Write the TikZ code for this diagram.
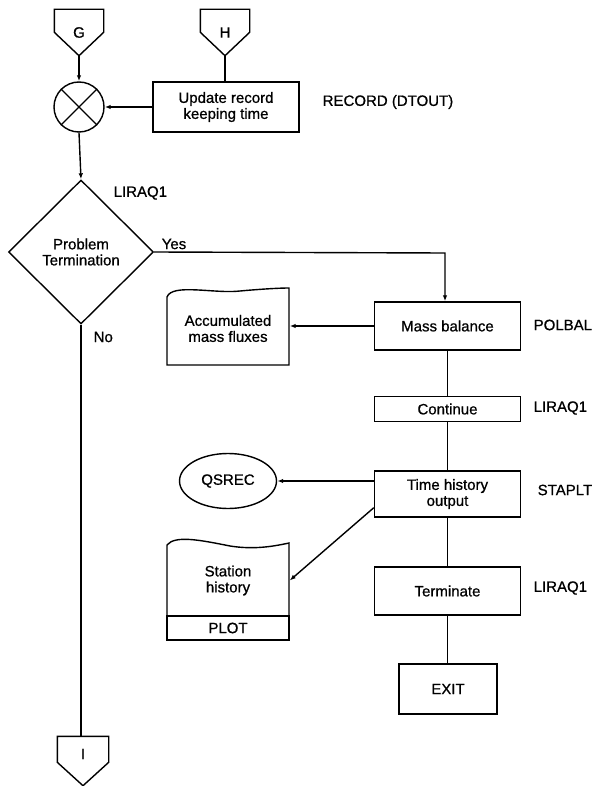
\documentclass[tikz,border=0pt]{standalone}
\usepackage{fontspec}
\setmainfont{Liberation Sans}[FakeBold=0.8]
\usetikzlibrary{shapes.geometric,arrows.meta,calc}

\begin{document}
\begin{tikzpicture}[x=1pt,y=-1pt, line width=1.4pt,
  every node/.style={font=\fontsize{15}{16}\selectfont, inner sep=0pt},
  stepbox/.style={draw, rectangle, align=center, minimum width=146pt},
  conn/.style={minimum width=48pt, minimum height=45pt},
  docnode/.style={align=center, minimum width=122pt},
  tag/.style={anchor=west},
  arr/.style={-{Latex[length=6pt,width=4.5pt]}}
]
\useasboundingbox (0,0) rectangle (597,786);

% off-page connectors
\node[conn] (G) at (79,32.5) {G};
\draw (G.north west) -- (G.north east) -- ($(G.north east)+(0,23)$) -- (G.south)
      -- ($(G.north west)+(0,23)$) -- cycle;
\node[conn] (H) at (225,32.5) {H};
\draw (H.north west) -- (H.north east) -- ($(H.north east)+(0,23)$) -- (H.south)
      -- ($(H.north west)+(0,23)$) -- cycle;
\node[conn, minimum width=50pt, minimum height=48pt] (I) at (83,761) {};
\draw (I.north west) -- (I.north east) -- ($(I.north east)+(0,26)$) -- (I.south)
      -- ($(I.north west)+(0,26)$) -- cycle;
\node (Itxt) at (83,754) {I};

% summing junction
\node[draw, circle, minimum size=50pt] (mix) at (79,107) {};
\draw (mix.north west) -- (mix.south east) (mix.north east) -- (mix.south west);

% record keeping
\node[stepbox, minimum height=50pt] (upd) at (226,107) {Update record\\keeping time};
\node[tag] (recname) at (322,102) {RECORD (DTOUT)};

% decision
\node[draw, diamond, aspect=1, minimum width=145pt, minimum height=144pt, align=center]
  (dec) at (81,252) {Problem\\Termination};
\node[tag] (decname) at (113,193) {LIRAQ1};
\node (yes) at (174,244) {Yes};
\node[tag] (no) at (93,337) {No};

% right column
\node[stepbox, minimum height=48pt] (mb) at (447.5,326) {Mass balance};
\node[tag] (mbname) at (533,325) {POLBAL};
\node[stepbox, minimum height=25pt] (cont) at (447.5,409) {Continue};
\node[tag] (contname) at (533,408) {LIRAQ1};
\node[stepbox, minimum height=46pt] (th) at (447.5,494) {Time history\\output};
\node[tag] (thname) at (537,490) {STAPLT};
\node[stepbox, minimum height=48pt] (term) at (447.5,591) {Terminate};
\node[tag] (termname) at (533,588) {LIRAQ1};
\node[draw, rectangle, minimum width=98pt, minimum height=50pt] (exit) at (448,689) {EXIT};

% accumulated mass fluxes (document)
\node[docnode, minimum height=73pt] (acc) at (228,328.5) {Accumulated\\mass fluxes};
\draw (167,365) -- (167,297)
  .. controls (172,283) and (215,294) .. (240,291)
  .. controls (262,289) and (280,288) .. (289,288) -- (289,365) -- cycle;

% station history (document with tab)
\node[docnode, minimum height=71pt] (sh) at (228,580.5) {Station\\history};
\node[draw, rectangle, minimum width=122pt, minimum height=24pt] (plot) at (228,628) {PLOT};
\draw (167,616) -- (167,545)
  .. controls (175,535) and (200,540) .. (230,546)
  .. controls (255,550) and (275,546) .. (289,543) -- (289,616);

% QSREC
\node[draw, ellipse, minimum width=97pt, minimum height=55pt] (q) at (228,481) {QSREC};

% connectors
\draw[arr] (G.south) -- (mix.north);
\draw (H.south) -- (H.south |- upd.north);
\draw[arr] (upd.west) -- (mix.east);
\draw[arr] (mix.south) -- (dec.north);
\draw[arr] (dec.east) -- (445,253) coordinate (yesturn) -- (yesturn |- mb.north);
\draw[arr] (mb.west) -- (mb.west -| acc.east);
\draw (mb.south) -- (cont.north);
\draw (cont.south) -- (th.north);
\draw[arr] (th.west |- q.east) -- (q.east);
\draw[arr] ($(th.south west)+(0,-10)$) -- (sh.east);
\draw (th.south) -- (term.north);
\draw (term.south) -- (term.south |- exit.north);
\draw (dec.south) -- (dec.south |- I.north);
\end{tikzpicture}
\end{document}
